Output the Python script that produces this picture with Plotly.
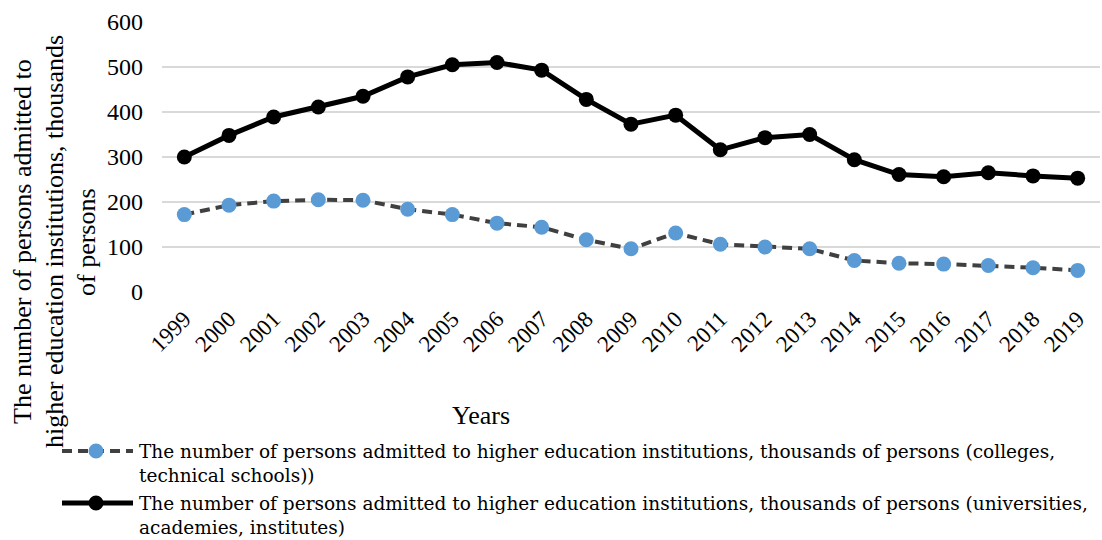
import plotly.graph_objects as go

# Admissions to higher education institutions, thousands of persons
years = [str(y) for y in range(1999, 2020)]
colleges = [172, 193, 202, 205, 204, 184, 172, 153, 144, 116, 96,
            131, 106, 100, 96, 70, 64, 62, 59, 54, 48]
universities = [300, 348, 389, 411, 435, 478, 505, 510, 493, 428, 373,
                393, 316, 343, 350, 294, 261, 256, 265, 258, 253]

name_colleges = ("The number of persons admitted to higher education institutions, "
                 "thousands of persons (colleges,<br>technical schools))")
name_univ = ("The number of persons admitted to higher education institutions, "
             "thousands of persons (universities,<br>academies, institutes)")
y_title_lines = ["The number of persons admitted to",
                 "higher education institutions, thousands",
                 "of persons"]

FONT = "Liberation Serif"
LEGEND_FONT = "DejaVu Serif"
LEGEND_SIZE = 18.5
W, H = 1102, 540
L, R, T, B = 162, 2, 22, 248
PW, PH = W - L - R, H - T - B

COLLEGE_LINE = dict(color="#404040", width=4, dash="10px,6px")
COLLEGE_MARKER = "#5B9BD5"
UNIV_LINE = dict(color="#000000", width=5)
UNIV_MARKER = "#000000"


def px_x(x):
    return (x - L) / PW


def px_y(y):
    return (H - B - y) / PH


fig = go.Figure()
fig.add_trace(go.Scatter(
    x=years, y=colleges, name=name_colleges.replace("<br>", " "),
    mode="lines+markers", line=COLLEGE_LINE,
    marker=dict(color=COLLEGE_MARKER, size=15), showlegend=False,
))
fig.add_trace(go.Scatter(
    x=years, y=universities, name=name_univ.replace("<br>", " "),
    mode="lines+markers", line=UNIV_LINE,
    marker=dict(color=UNIV_MARKER, size=15), showlegend=False,
))

# y-axis title, one annotation per line
annotations = [
    dict(text=line, xref="paper", yref="paper",
         x=px_x(xc), y=px_y(242), xanchor="center", yanchor="middle",
         textangle=-90, showarrow=False,
         font=dict(family=FONT, size=26, color="#000000"))
    for line, xc in zip(y_title_lines, [22, 54, 86])
]
annotations.append(dict(
    text="Years", xref="paper", yref="paper", x=px_x(481), y=px_y(415),
    xanchor="center", yanchor="middle", showarrow=False,
    font=dict(family=FONT, size=26, color="#000000")))

# legend below the chart: symbol line + marker, then wrapped label
shapes = []
legend_rows = [
    (name_colleges, 451, COLLEGE_LINE, COLLEGE_MARKER),
    (name_univ, 503, UNIV_LINE, UNIV_MARKER),
]
half_line = LEGEND_SIZE * 1.3 / 2
for text, yc, line_style, mcolor in legend_rows:
    shapes.append(dict(
        type="line", xref="paper", yref="paper",
        x0=px_x(62), x1=px_x(133), y0=px_y(yc), y1=px_y(yc),
        line=line_style, layer="above"))
    shapes.append(dict(
        type="circle", xref="paper", yref="paper",
        x0=px_x(96 - 7.5), x1=px_x(96 + 7.5),
        y0=px_y(yc - 7.5), y1=px_y(yc + 7.5),
        fillcolor=mcolor, line=dict(width=0), layer="above"))
    annotations.append(dict(
        text=text, xref="paper", yref="paper",
        x=px_x(137), y=px_y(yc + half_line), xanchor="left", yanchor="middle",
        align="left", showarrow=False,
        font=dict(family=LEGEND_FONT, size=LEGEND_SIZE, color="#000000")))

fig.update_layout(
    width=W, height=H,
    margin=dict(l=L, r=R, t=T, b=B),
    paper_bgcolor="white", plot_bgcolor="white",
    font=dict(family=FONT, size=24, color="#000000"),
    showlegend=False,
    xaxis=dict(
        type="category", range=[-0.5, 20.5],
        showgrid=False, showline=False, zeroline=False, ticks="",
        tickangle=-45, ticklabelstandoff=8,
        tickfont=dict(family=FONT, size=23, color="#000000"),
        automargin=False,
    ),
    yaxis=dict(
        range=[0, 600], dtick=100,
        showgrid=True, gridcolor="#D9D9D9", gridwidth=1.5,
        zeroline=False, showline=False, ticks="",
        ticklabelstandoff=18,
        tickfont=dict(family=FONT, size=24, color="#000000"),
        automargin=False,
    ),
    annotations=annotations,
    shapes=shapes,
)

fig.write_html("out.html")
